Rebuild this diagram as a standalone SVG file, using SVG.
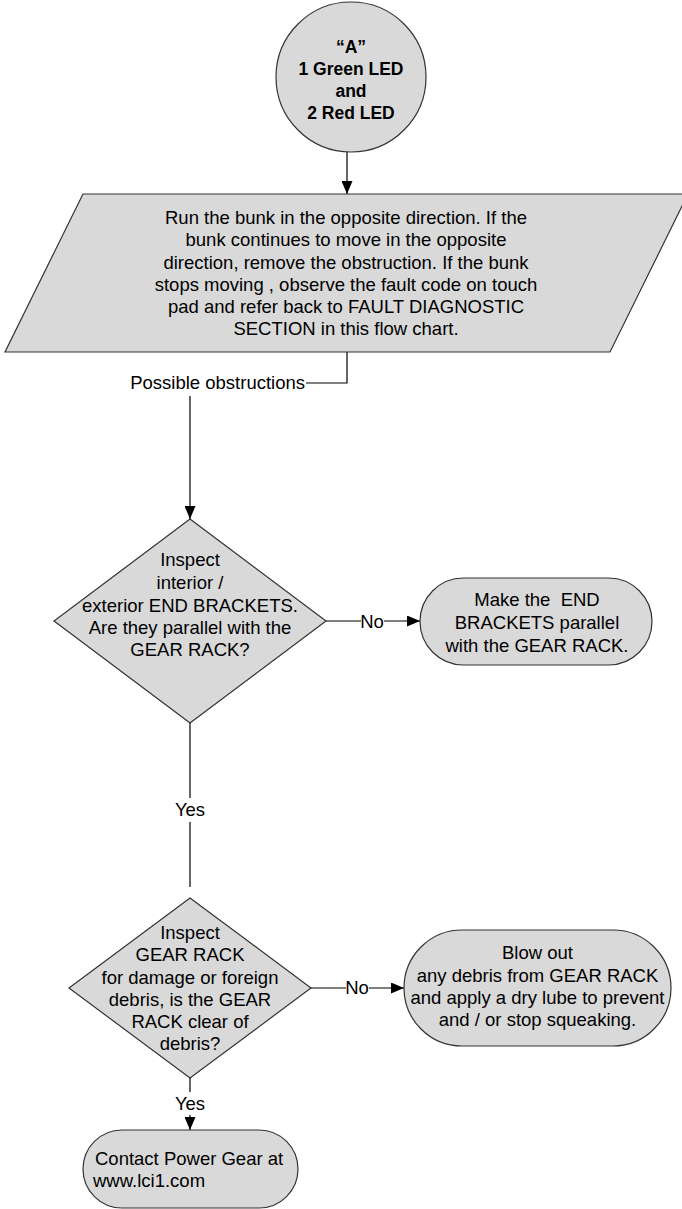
<svg xmlns="http://www.w3.org/2000/svg" width="682" height="1209" viewBox="0 0 682 1209">
<style>
.shape{fill:#d9d9d9;stroke:#333333;stroke-width:1.2}
.conn{fill:none;stroke:#000000;stroke-width:1.2}
text{font-family:"Liberation Sans",Arial,sans-serif;font-size:18.5px;fill:#000000}
.c{text-anchor:middle}
.b{font-weight:bold;font-size:17.5px}
</style>
<defs>
<marker id="arr" markerUnits="userSpaceOnUse" markerWidth="13" markerHeight="11" refX="13" refY="5.5" orient="auto">
<path d="M0,0 L13,5.5 L0,11 z" fill="#000000"/>
</marker>
</defs>
<rect width="682" height="1209" fill="#ffffff"/>
<g id="connectors">
<line class="conn" x1="347" y1="152" x2="347" y2="194" marker-end="url(#arr)"/>
<polyline class="conn" points="347,352 347,383 306,383"/>
<line class="conn" x1="190" y1="396" x2="190" y2="519" marker-end="url(#arr)"/>
<line class="conn" x1="326" y1="621" x2="361" y2="621"/>
<line class="conn" x1="384" y1="621" x2="420" y2="621" marker-end="url(#arr)"/>
<line class="conn" x1="190" y1="723" x2="190" y2="798"/>
<line class="conn" x1="190" y1="822" x2="190" y2="887"/>
<line class="conn" x1="311" y1="988" x2="346" y2="988"/>
<line class="conn" x1="369" y1="988" x2="404" y2="988" marker-end="url(#arr)"/>
<line class="conn" x1="190" y1="1078" x2="190" y2="1092"/>
<line class="conn" x1="190" y1="1115" x2="190" y2="1130" marker-end="url(#arr)"/>
<text class="c" x="372" y="628">No</text>
<text class="c" x="357" y="994">No</text>
<text class="c" x="190" y="816">Yes</text>
<text class="c" x="190" y="1110">Yes</text>
<text x="305" y="389" text-anchor="end">Possible obstructions</text>
</g>
<g id="start">
<circle class="shape" cx="351" cy="77" r="75"/>
<text class="c b" x="351" y="53">“A”</text>
<text class="c b" x="351" y="75">1 Green LED</text>
<text class="c b" x="351" y="97">and</text>
<text class="c b" x="351" y="119">2 Red LED</text>
</g>
<g id="run-opposite">
<polygon class="shape" points="83,194 688,194 610,352 5,352"/>
<text class="c" x="346" y="224">Run the bunk in the opposite direction. If the</text>
<text class="c" x="346" y="246">bunk continues to move in the opposite</text>
<text class="c" x="346" y="268.5">direction, remove the obstruction. If the bunk</text>
<text class="c" x="346" y="290.5">stops moving , observe the fault code on touch</text>
<text class="c" x="346" y="313">pad and refer back to FAULT DIAGNOSTIC</text>
<text class="c" x="346" y="335">SECTION in this flow chart.</text>
</g>
<g id="end-brackets">
<polygon class="shape" points="190,519 326,621 190,723 54,621"/>
<text class="c" x="190" y="566">Inspect</text>
<text class="c" x="190" y="589">interior /</text>
<text class="c" x="190" y="612">exterior END BRACKETS.</text>
<text class="c" x="190" y="634">Are they parallel with the</text>
<text class="c" x="190" y="656">GEAR RACK?</text>
</g>
<g id="make-parallel">
<rect class="shape" x="420" y="578" width="232" height="87" rx="43.5" ry="43.5"/>
<text class="c" x="537" y="606">Make the&#160; END</text>
<text class="c" x="537" y="628.5">BRACKETS parallel</text>
<text class="c" x="537" y="651.5">with the GEAR RACK.</text>
</g>
<g id="gear-rack">
<polygon class="shape" points="190,898 311,988 190,1078 69,988"/>
<text class="c" x="190" y="939">Inspect</text>
<text class="c" x="190" y="961">GEAR RACK</text>
<text class="c" x="190" y="983.5">for damage or foreign</text>
<text class="c" x="190" y="1005.5">debris, is the GEAR</text>
<text class="c" x="190" y="1028">RACK clear of</text>
<text class="c" x="190" y="1050">debris?</text>
</g>
<g id="blow-out">
<rect class="shape" x="404" y="930" width="267" height="116" rx="58" ry="58"/>
<text class="c" x="537.5" y="959">Blow out</text>
<text class="c" x="537.5" y="981.5">any debris from GEAR RACK</text>
<text class="c" x="537.5" y="1003.5">and apply a dry lube to prevent</text>
<text class="c" x="537.5" y="1026">and / or stop squeaking.</text>
</g>
<g id="contact">
<rect class="shape" x="83" y="1130" width="215" height="78" rx="39" ry="39"/>
<text x="95" y="1165">Contact Power Gear at</text>
<text x="93" y="1187">www.lci1.com</text>
</g>
</svg>
